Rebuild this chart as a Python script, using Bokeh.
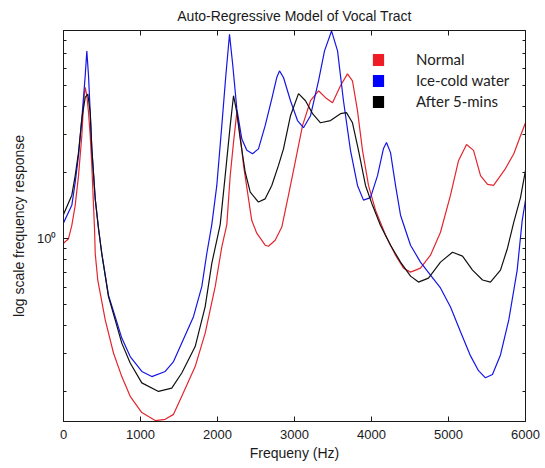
from bokeh.plotting import figure
from bokeh.models import (Range1d, FixedTicker, CustomJSTickFormatter, LinearAxis,
                          LogAxis, Legend, LegendItem)
from bokeh.embed import file_html
from bokeh.resources import INLINE

# ---- data ----
normal_hz = [0, 65, 108, 152, 195, 238, 264, 282, 303, 325, 347, 368, 386, 403, 412, 445,
             542, 649, 757, 866, 1017, 1191, 1321, 1429, 1536, 1710, 1840, 1970, 2056, 2121,
             2165, 2208, 2251, 2295, 2338, 2403, 2445, 2510, 2619, 2662, 2749, 2835, 2922,
             3013, 3104, 3208, 3312, 3403, 3494, 3597, 3688, 3753, 3818, 3883, 3961, 4052,
             4182, 4312, 4416, 4507, 4636, 4766, 4896, 5026, 5130, 5234, 5325, 5416, 5507,
             5585, 5740, 5848, 5935, 6000]
normal_resp = [0.954, 1.0, 1.15, 1.42, 1.94, 2.95, 4.34, 4.90, 4.49, 3.77, 2.95, 2.16, 1.52,
               1.11, 0.856, 0.648, 0.426, 0.301, 0.235, 0.191, 0.161, 0.148, 0.150, 0.158,
               0.191, 0.261, 0.371, 0.604, 0.918, 1.16, 1.94, 2.75, 3.77, 2.95, 2.16, 1.52,
               1.21, 1.06, 0.934, 0.924, 0.984, 1.13, 1.58, 2.27, 3.28, 4.26, 4.73, 4.40,
               4.17, 4.99, 5.65, 5.25, 3.84, 2.53, 1.75, 1.35, 1.04, 0.841, 0.734, 0.704,
               0.734, 0.841, 1.07, 1.58, 2.27, 2.69, 2.53, 1.94, 1.77, 1.75, 2.09, 2.44,
               2.95, 3.38]

ice_hz = [0, 108, 152, 195, 238, 282, 303, 325, 347, 368, 412, 455, 497, 584, 671, 757, 866,
          1017, 1147, 1321, 1429, 1536, 1688, 1796, 1861, 1926, 1991, 2056, 2108, 2156, 2199,
          2251, 2316, 2381, 2455, 2532, 2619, 2705, 2770, 2805, 2857, 2948, 3039, 3117, 3208,
          3312, 3390, 3481, 3559, 3636, 3727, 3818, 3896, 3987, 4078, 4156, 4195, 4247, 4312,
          4377, 4507, 4636, 4766, 4896, 5026, 5156, 5286, 5390, 5480, 5571, 5675, 5783, 5892,
          5957, 6000]
ice_resp = [1.18, 1.42, 1.81, 2.40, 3.52, 5.54, 7.19, 5.54, 3.77, 2.57, 1.52, 1.11, 0.856,
            0.553, 0.441, 0.352, 0.290, 0.248, 0.235, 0.248, 0.275, 0.334, 0.441, 0.604,
            0.856, 1.16, 1.75, 3.28, 5.54, 8.56, 6.15, 3.91, 2.85, 2.53, 2.44, 2.57, 3.28,
            4.34, 5.44, 5.83, 5.44, 4.26, 3.46, 3.21, 3.64, 5.25, 7.19, 8.87, 7.19, 4.26,
            2.53, 1.75, 1.50, 1.54, 1.94, 2.58, 2.75, 2.47, 1.75, 1.28, 0.934, 0.782, 0.683,
            0.596, 0.488, 0.376, 0.292, 0.25, 0.232, 0.240, 0.295, 0.426, 0.719, 1.21, 1.50]

after_hz = [0, 108, 152, 195, 238, 282, 316, 347, 368, 412, 455, 497, 584, 671, 757, 866,
            1017, 1234, 1406, 1536, 1710, 1840, 1926, 2035, 2100, 2165, 2208, 2251, 2295,
            2360, 2425, 2532, 2619, 2705, 2792, 2857, 2948, 3052, 3143, 3234, 3338, 3468,
            3597, 3675, 3753, 3831, 3922, 4013, 4117, 4247, 4377, 4507, 4610, 4740, 4896,
            5052, 5182, 5312, 5442, 5545, 5675, 5766, 5848, 5935, 6000]
after_resp = [1.29, 1.58, 1.94, 2.48, 3.52, 4.41, 4.57, 3.77, 2.57, 1.52, 1.11, 0.856, 0.544,
              0.426, 0.334, 0.271, 0.22, 0.201, 0.208, 0.244, 0.322, 0.49, 0.772, 1.16, 1.94,
              3.28, 4.49, 3.77, 2.85, 2.01, 1.63, 1.47, 1.52, 1.75, 2.16, 2.57, 3.64, 4.59,
              4.26, 3.72, 3.38, 3.46, 3.72, 3.76, 3.38, 2.53, 1.75, 1.42, 1.15, 0.934, 0.782,
              0.675, 0.634, 0.661, 0.782, 0.868, 0.833, 0.719, 0.648, 0.634, 0.719, 0.905,
              1.19, 1.54, 2.05]

series_labels = ["Normal", "Ice-cold water", "After 5-mins"]
x_ticks = [0, 1000, 2000, 3000, 4000, 5000, 6000]
y_major_ticks = [1]
y_minor_ticks = [0.2, 0.3, 0.4, 0.5, 0.6, 0.7, 0.8, 0.9, 2, 3, 4, 5, 6, 7, 8]

RED = "#e3262e"
BLUE = "#1515e6"
BLACK = "#111111"
FONT = "Liberation Sans"
NAN = float("nan")

p = figure(width=545, height=468, output_backend="svg", toolbar_location=None,
           y_axis_type="log", x_range=Range1d(0, 6000), y_range=Range1d(0.1466, 8.91),
           min_border_left=63, min_border_right=20, min_border_top=30, min_border_bottom=47,
           background_fill_color="white", border_fill_color="white")

p.title.text = "Auto-Regressive Model of Vocal Tract"
p.title.align = "center"
p.title.vertical_align = "top"
p.title.text_font = FONT
p.title.text_font_size = "14px"
p.title.text_font_style = "normal"
p.title.text_color = "#1a1a1a"
p.title.standoff = 10

p.xgrid.visible = False
p.ygrid.visible = False
p.outline_line_color = "#1a1a1a"
p.outline_line_width = 1

xt = FixedTicker(ticks=x_ticks, minor_ticks=[])
yt = FixedTicker(ticks=y_major_ticks, minor_ticks=y_minor_ticks)

xa = p.xaxis[0]
xa.ticker = xt
xa.axis_label = "Frequeny (Hz)"
ya = p.yaxis[0]
ya.ticker = yt
ya.axis_label = "log scale frequency response"
ya.formatter = CustomJSTickFormatter(code="return tick == 1 ? '10\u2070' : '';")

for ax in (xa, ya):
    ax.axis_line_color = "#1a1a1a"
    ax.major_tick_in = 5
    ax.major_tick_out = 0
    ax.minor_tick_in = 3
    ax.minor_tick_out = 0
    ax.major_tick_line_color = "#1a1a1a"
    ax.minor_tick_line_color = "#1a1a1a"
    ax.major_label_text_font = FONT
    ax.major_label_text_font_size = "13px"
    ax.major_label_text_color = "#1a1a1a"
    ax.axis_label_text_font = FONT
    ax.axis_label_text_font_size = "14px"
    ax.axis_label_text_font_style = "normal"
    ax.axis_label_text_color = "#1a1a1a"
xa.major_label_standoff = 8
xa.axis_label_standoff = 3
ya.major_label_standoff = 7
ya.axis_label_standoff = 7

blank = CustomJSTickFormatter(code="return '';")
top = LinearAxis(ticker=xt, formatter=blank, major_tick_in=5, major_tick_out=0,
                 minor_tick_in=0, minor_tick_out=0, major_label_standoff=0,
                 axis_line_color="#1a1a1a", major_tick_line_color="#1a1a1a")
right = LogAxis(ticker=yt, formatter=blank, major_tick_in=5, major_tick_out=0,
                minor_tick_in=3, minor_tick_out=0, major_label_standoff=0,
                axis_line_color="#1a1a1a", major_tick_line_color="#1a1a1a",
                minor_tick_line_color="#1a1a1a")
p.add_layout(top, "above")
p.add_layout(right, "right")

p.line(normal_hz, normal_resp, line_color=RED, line_width=1.2)
p.line(ice_hz, ice_resp, line_color=BLUE, line_width=1.2)
p.line(after_hz, after_resp, line_color=BLACK, line_width=1.2)

# legend swatches (undrawn NaN glyphs, used only for the legend squares)
sw_r = p.quad(left=[NAN], right=[NAN], top=[NAN], bottom=[NAN], fill_color="#ee1c25", line_color=None)
sw_b = p.quad(left=[NAN], right=[NAN], top=[NAN], bottom=[NAN], fill_color="#0000ff", line_color=None)
sw_k = p.quad(left=[NAN], right=[NAN], top=[NAN], bottom=[NAN], fill_color="#000000", line_color=None)

legend = Legend(items=[LegendItem(label=series_labels[0], renderers=[sw_r], index=0),
                       LegendItem(label=series_labels[1], renderers=[sw_b], index=0),
                       LegendItem(label=series_labels[2], renderers=[sw_k], index=0)],
                location=(308, 311), orientation="vertical",
                glyph_width=14, glyph_height=15, label_height=15, label_width=20,
                label_standoff=31, spacing=3, padding=0, margin=0,
                border_line_alpha=0, background_fill_alpha=0,
                label_text_font="Lato", label_text_font_size="15px",
                label_text_color="#222222")
p.add_layout(legend)

open("out.html", "w").write(file_html(p, INLINE))
